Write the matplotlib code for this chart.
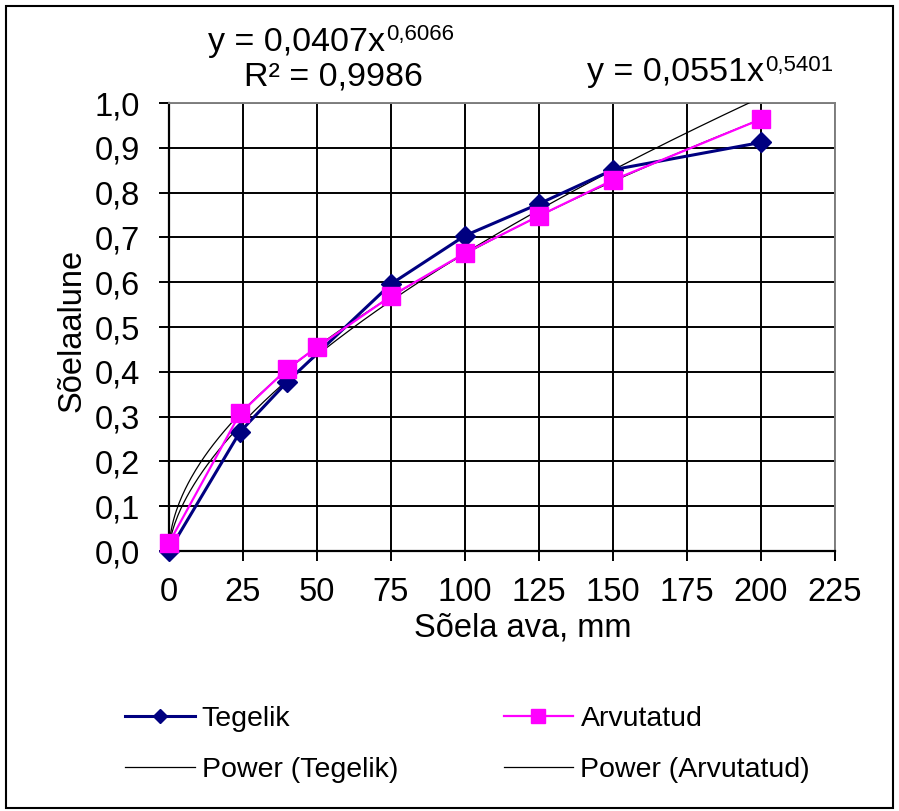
import numpy as np
import matplotlib.pyplot as plt
from matplotlib.lines import Line2D
from matplotlib.patches import Rectangle

plt.rcParams['font.family'] = ['Liberation Sans', 'DejaVu Sans']

# %% data

x_tegelik = [0, 24, 40, 75, 100, 125, 150, 200]
y_tegelik = [0.00, 0.266, 0.378, 0.596, 0.704, 0.775, 0.851, 0.912]

x_arvutatud = [0, 24, 40, 50, 75, 100, 125, 150, 200]
y_arvutatud = [0.018, 0.307, 0.407, 0.455, 0.569, 0.665, 0.748, 0.828, 0.964]

# power trend lines y = a * x^b, coefficients as printed on the chart
trend_tegelik = (0.0407, 0.6066)
trend_arvutatud = (0.0551, 0.5401)

x_ticks = [0, 25, 50, 75, 100, 125, 150, 175, 200, 225]
y_ticks = [0.0, 0.1, 0.2, 0.3, 0.4, 0.5, 0.6, 0.7, 0.8, 0.9, 1.0]

NAVY = '#000080'
MAGENTA = '#FF00FF'
FS_TICK = 23.5
FS_LABEL = 23.5
FS_EQ = 24.5
FS_SUP = 16
FS_LEG = 20.5

# %% figure

fig = plt.figure(figsize=(8.99, 8.11), dpi=100)
fig.patches.append(Rectangle((6 / 899, 3 / 811), 887 / 899, 802 / 811, transform=fig.transFigure,
                             fill=False, edgecolor='black', lw=1.5))

ax = fig.add_axes([169 / 899, 1 - 551 / 811, 666 / 899, 448 / 811])
ax.set_xlim(0, 225)
ax.set_ylim(0, 1.0)
ax.set_xticks(x_ticks)
ax.set_yticks(y_ticks)
ax.set_xticklabels([str(t) for t in x_ticks])
ax.set_yticklabels([f'{t:.1f}'.replace('.', ',') for t in y_ticks])
ax.tick_params(axis='both', labelsize=FS_TICK, direction='out', length=7, width=1.4, color='black')
ax.tick_params(axis='y', pad=14)
ax.tick_params(axis='x', pad=12)
ax.grid(True, color='black', lw=1.4)
ax.set_axisbelow(True)
for side in ['top', 'right']:
    ax.spines[side].set_color('#808080')
    ax.spines[side].set_linewidth(1.4)
for side in ['left', 'bottom']:
    ax.spines[side].set_color('black')
    ax.spines[side].set_linewidth(1.6)

# trend lines
xx = np.linspace(0, 200, 400)
ax.plot(xx, trend_tegelik[0] * xx ** trend_tegelik[1], color='black', lw=0.9, zorder=3)
ax.plot(xx, trend_arvutatud[0] * xx ** trend_arvutatud[1], color='black', lw=0.9, zorder=3)

# data series
ax.plot(x_tegelik, y_tegelik, color=NAVY, lw=2.2, marker='D', ms=10.5, mec=NAVY, mfc=NAVY, zorder=4,
        clip_on=False)
ax.plot(x_arvutatud, y_arvutatud, color=MAGENTA, lw=1.6, marker='s', ms=13.5, mec=MAGENTA, mfc=MAGENTA,
        zorder=5, clip_on=False)

# axis labels
fig.text(523 / 899, 1 - 628 / 811, 'Sõela ava, mm', fontsize=FS_LABEL, ha='center', va='center')
fig.text(72 / 899, 1 - 330 / 811, 'Sõelaalune', fontsize=FS_LABEL, ha='center', va='center', rotation=90)

# trend equations
t1 = fig.text(208 / 899, 1 - 42 / 811, 'y = 0,0407x', fontsize=FS_EQ, ha='left', va='center')
ax.annotate('0,6066', xy=(1, 0), xycoords=t1, xytext=(0.5, 12.5), textcoords='offset points',
            fontsize=FS_SUP, ha='left', va='baseline', annotation_clip=False)
fig.text(333 / 899, 1 - 77 / 811, 'R² = 0,9986', fontsize=FS_EQ, ha='center', va='center')
t2 = fig.text(587 / 899, 1 - 73 / 811, 'y = 0,0551x', fontsize=FS_EQ, ha='left', va='center')
ax.annotate('0,5401', xy=(1, 0), xycoords=t2, xytext=(0.5, 12.5), textcoords='offset points',
            fontsize=FS_SUP, ha='left', va='baseline', annotation_clip=False)

# legend
handles = [Line2D([0], [0], color=NAVY, lw=2.2, marker='D', ms=7, label='Tegelik'),
           Line2D([0], [0], color='black', lw=0.9, label='Power (Tegelik)'),
           Line2D([0], [0], color=MAGENTA, lw=1.6, marker='s', ms=10, label='Arvutatud'),
           Line2D([0], [0], color='black', lw=0.9, label='Power (Arvutatud)')]
fig.legend(handles=handles, ncol=2, loc='center left', bbox_to_anchor=(125 / 899, 1 - 744.5 / 811),
           frameon=False, fontsize=FS_LEG, handlelength=2.45, handletextpad=0.25, columnspacing=3.7,
           labelspacing=0.9, borderpad=0, borderaxespad=0)

fig.savefig('out.png', dpi=100)
